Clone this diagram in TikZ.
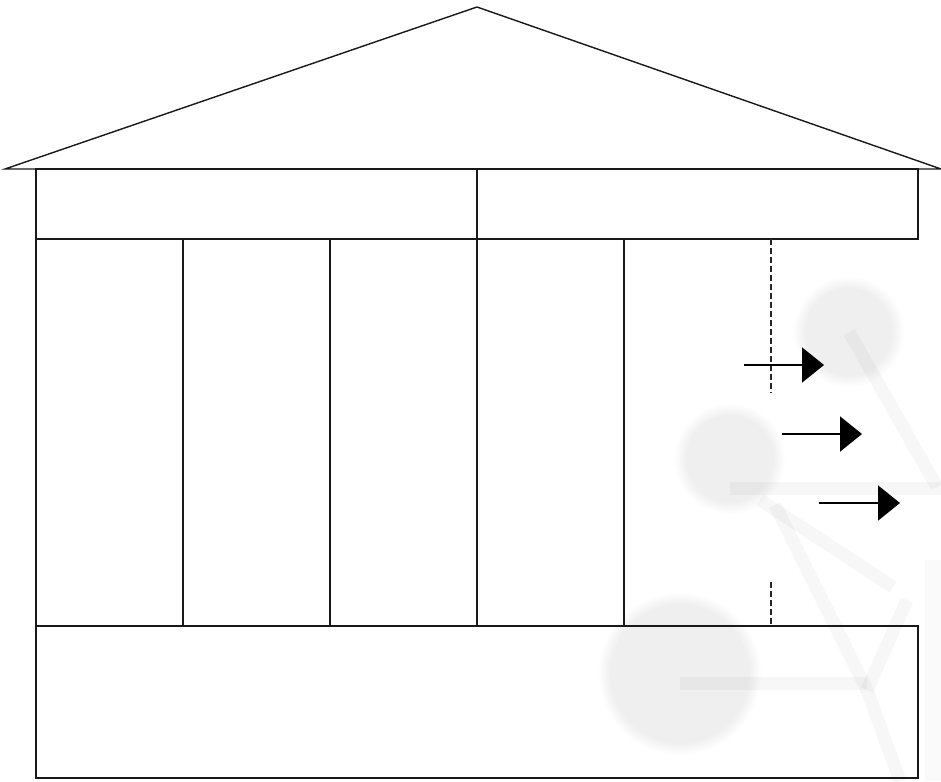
\documentclass[tikz,border=0pt]{standalone}
\usetikzlibrary{arrows.meta}
\begin{document}
\begin{tikzpicture}[x=1pt,y=-1pt,
  box/.style={draw=black!90,line width=1.4pt,minimum width=#1,anchor=north west,inner sep=0pt,outer sep=0pt},
  col/.style={box=147,minimum height=387},
  bond/.style={draw=black,draw opacity=0.03,line width=13pt,line cap=butt},
  guide/.style={draw=black!85,line width=1.3pt,dash pattern=on 5.5pt off 3.5pt},
  arr/.style={draw=black,line width=1.8pt,-{Triangle[length=22pt,width=35pt]}}]
\useasboundingbox (0,0) rectangle (941,781);
\fill[white] (0,0) rectangle (941,781);
% faint background molecule
\fill[black,opacity=0.02] (925,560) rectangle (941,781);
\draw[bond] (849,332) -- (937,487);
\draw[bond] (730,488) -- (941,488);
\draw[bond] (760,500) -- (893,587);
\draw[bond] (775,505) -- (867,690);
\draw[bond] (680,683) -- (867,683);
\draw[bond] (867,690) -- (907,600);
\draw[bond] (867,690) -- (900,781);
\foreach \cx/\cy/\r in {849/332/49,730/459/49,680/674/75}{
  \foreach \k in {0,...,7}{
    \fill[black,opacity=0.0085] (\cx,\cy) circle (\r+6-1.6*\k);
  }
}
% roof
\draw[line width=1.4pt,line join=miter,black!90] (5,169) -- (477,7) -- (941,169) -- cycle;
% top band
\node[box=441,minimum height=70] (tl) at (36,169) {};
\node[box=441,minimum height=70] (tr) at (477,169) {};
% columns
\node[col] (c1) at (36,239) {};
\node[col] (c2) at (183,239) {};
\node[col] (c3) at (330,239) {};
\node[col] (c4) at (477,239) {};
% bottom
\node[box=882,minimum height=152] (bot) at (36,626) {};
% dashed guide
\coordinate (g1) at (771,239);
\coordinate (g2) at (771,393);
\coordinate (g3) at (771,582);
\coordinate (g4) at (771,626);
\draw[guide] (g1) -- (g2);
\draw[guide] (g3) -- (g4);
% arrows
\coordinate (a1s) at (744,365); \coordinate (a1e) at (824,365);
\coordinate (a2s) at (782,434); \coordinate (a2e) at (862,434);
\coordinate (a3s) at (819,503); \coordinate (a3e) at (900,503);
\draw[arr] (a1s) -- (a1e);
\draw[arr] (a2s) -- (a2e);
\draw[arr] (a3s) -- (a3e);
\end{tikzpicture}
\end{document}
